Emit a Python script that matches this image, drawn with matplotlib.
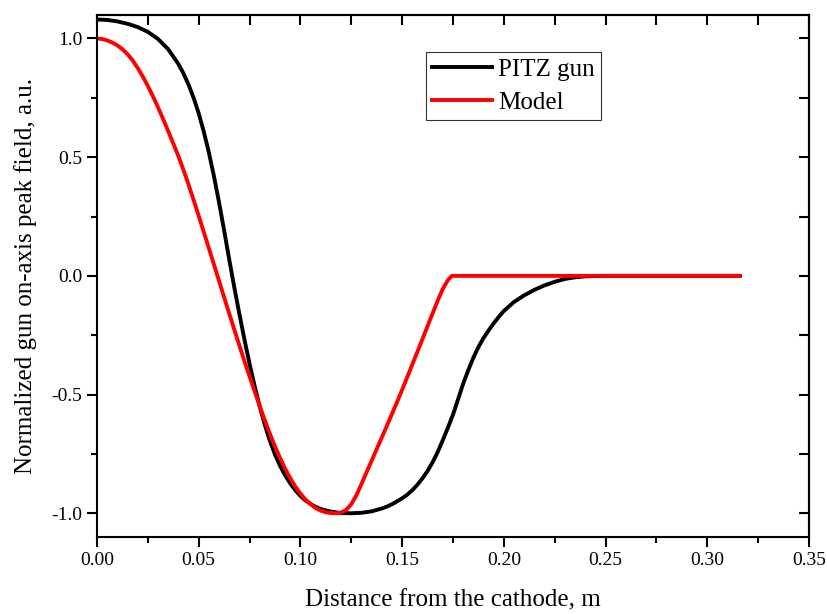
import matplotlib
matplotlib.use("Agg")
import matplotlib.pyplot as plt
from matplotlib.ticker import MultipleLocator, FormatStrFormatter

# ---- data ----
pitz_x = [0.0000, 0.0050, 0.0100, 0.0150, 0.0200, 0.0250, 0.0300, 0.0350, 0.0400, 0.0425,
          0.0450, 0.0475, 0.0500, 0.0525, 0.0550, 0.0575, 0.0600, 0.0625, 0.0650, 0.0675,
          0.0700, 0.0725, 0.0750, 0.0775, 0.0800, 0.0825, 0.0850, 0.0875, 0.0900, 0.0925,
          0.0950, 0.0975, 0.1000, 0.1025, 0.1050, 0.1075, 0.1100, 0.1150, 0.1200, 0.1250,
          0.1300, 0.1350, 0.1400, 0.1425, 0.1450, 0.1475, 0.1500, 0.1525, 0.1550, 0.1575,
          0.1600, 0.1625, 0.1650, 0.1675, 0.1700, 0.1725, 0.1750, 0.1775, 0.1800, 0.1825,
          0.1850, 0.1875, 0.1900, 0.1925, 0.1950, 0.1975, 0.2000, 0.2050, 0.2100, 0.2150,
          0.2200, 0.2250, 0.2300, 0.2350, 0.2400, 0.2450, 0.2500, 0.3160]
pitz_y = [1.080, 1.078, 1.072, 1.062, 1.048, 1.028, 0.998, 0.955, 0.893, 0.853,
          0.806, 0.750, 0.685, 0.608, 0.520, 0.420, 0.310, 0.192, 0.070, -0.048,
          -0.160, -0.268, -0.370, -0.464, -0.550, -0.627, -0.695, -0.752, -0.800, -0.840,
          -0.874, -0.903, -0.927, -0.946, -0.961, -0.973, -0.982, -0.993, -0.999, -1.000,
          -0.998, -0.992, -0.980, -0.972, -0.962, -0.950, -0.937, -0.922, -0.903, -0.880,
          -0.853, -0.822, -0.785, -0.742, -0.692, -0.640, -0.585, -0.520, -0.455, -0.398,
          -0.345, -0.300, -0.262, -0.230, -0.200, -0.173, -0.148, -0.110, -0.082, -0.059,
          -0.040, -0.025, -0.013, -0.006, -0.002, -0.0005, 0.000, 0.000]

model_x = [0.0000, 0.0025, 0.0050, 0.0075, 0.0100, 0.0125, 0.0150, 0.0175, 0.0200, 0.0225,
           0.0250, 0.0275, 0.0300, 0.0325, 0.0350, 0.0375, 0.0400, 0.0425, 0.0450, 0.0475,
           0.0500, 0.0525, 0.0550, 0.0575, 0.0600, 0.0625, 0.0650, 0.0675, 0.0700, 0.0725,
           0.0750, 0.0775, 0.0800, 0.0825, 0.0850, 0.0875, 0.0900, 0.0925, 0.0950, 0.0975,
           0.1000, 0.1025, 0.1050, 0.1075, 0.1100, 0.1125, 0.1150, 0.1175, 0.1200, 0.1225,
           0.1250, 0.1275, 0.1300, 0.1325, 0.1350, 0.1375, 0.1400, 0.1425, 0.1450, 0.1475,
           0.1500, 0.1525, 0.1550, 0.1575, 0.1600, 0.1625, 0.1650, 0.1675, 0.1700, 0.1725,
           0.1745, 0.3160]
model_y = [1.000, 0.998, 0.992, 0.983, 0.971, 0.955, 0.934, 0.908, 0.876, 0.840,
           0.800, 0.757, 0.710, 0.661, 0.610, 0.558, 0.505, 0.447, 0.385, 0.320,
           0.253, 0.185, 0.117, 0.048, -0.021, -0.090, -0.158, -0.226, -0.293, -0.359,
           -0.423, -0.486, -0.548, -0.608, -0.665, -0.718, -0.767, -0.812, -0.852, -0.887,
           -0.917, -0.942, -0.962, -0.978, -0.989, -0.996, -0.999, -1.000, -0.997, -0.986,
           -0.962, -0.925, -0.877, -0.828, -0.779, -0.730, -0.681, -0.632, -0.582, -0.532,
           -0.480, -0.427, -0.374, -0.320, -0.266, -0.212, -0.158, -0.104, -0.055, -0.018,
           0.000, 0.000]

series_labels = ["PITZ gun", "Model"]
x_label = "Distance from the cathode, m"
y_label = "Normalized gun on-axis peak field, a.u."

plt.rcParams["font.family"] = ["Liberation Serif", "DejaVu Serif"]
plt.rcParams["axes.unicode_minus"] = False

fig = plt.figure(figsize=(8.28, 6.14), dpi=100)
ax = fig.add_axes([0.1171, 0.1254, 0.8599, 0.8506])

ax.plot(pitz_x, pitz_y, color="black", lw=2.8, label=series_labels[0],
        solid_joinstyle="round")
ax.plot(model_x, model_y, color="#ff0000", lw=2.8, label=series_labels[1],
        solid_joinstyle="round")

ax.set_xlim(0, 0.35)
ax.set_ylim(-1.1, 1.1)

ax.xaxis.set_major_locator(MultipleLocator(0.05))
ax.xaxis.set_minor_locator(MultipleLocator(0.025))
ax.yaxis.set_major_locator(MultipleLocator(0.5))
ax.yaxis.set_minor_locator(MultipleLocator(0.25))
ax.xaxis.set_major_formatter(FormatStrFormatter("%.2f"))
ax.yaxis.set_major_formatter(FormatStrFormatter("%.1f"))

ax.tick_params(which="major", direction="out", length=7.2, width=1.5,
               labelsize=14, pad=3.5)
ax.tick_params(which="minor", direction="out", length=4.3, width=1.5)
for s in ax.spines.values():
    s.set_linewidth(1.5)

# mirrored ticks pointing inward on top and right
secx = ax.secondary_xaxis("top")
secx.xaxis.set_major_locator(MultipleLocator(0.05))
secx.xaxis.set_minor_locator(MultipleLocator(0.025))
secx.tick_params(which="both", direction="in", length=7.2, width=1.5,
                 labeltop=False)
secx.spines["top"].set_linewidth(1.5)

secy = ax.secondary_yaxis("right")
secy.yaxis.set_major_locator(MultipleLocator(0.5))
secy.yaxis.set_minor_locator(MultipleLocator(0.25))
secy.tick_params(which="both", direction="in", length=7.2, width=1.5,
                 labelright=False)
secy.spines["right"].set_linewidth(1.5)

ax.set_xlabel(x_label, fontsize=18, labelpad=15)
ax.set_ylabel(y_label, fontsize=18, labelpad=10)

leg = ax.legend(loc="upper left", bbox_to_anchor=(0.4617, 0.929),
                borderaxespad=0, fontsize=18, frameon=True, fancybox=False,
                edgecolor="black", handlelength=2.4, handletextpad=0.25,
                labelspacing=0.42, borderpad=0.25)
leg.get_frame().set_linewidth(0.8)

fig.savefig("out.png", dpi=100)
